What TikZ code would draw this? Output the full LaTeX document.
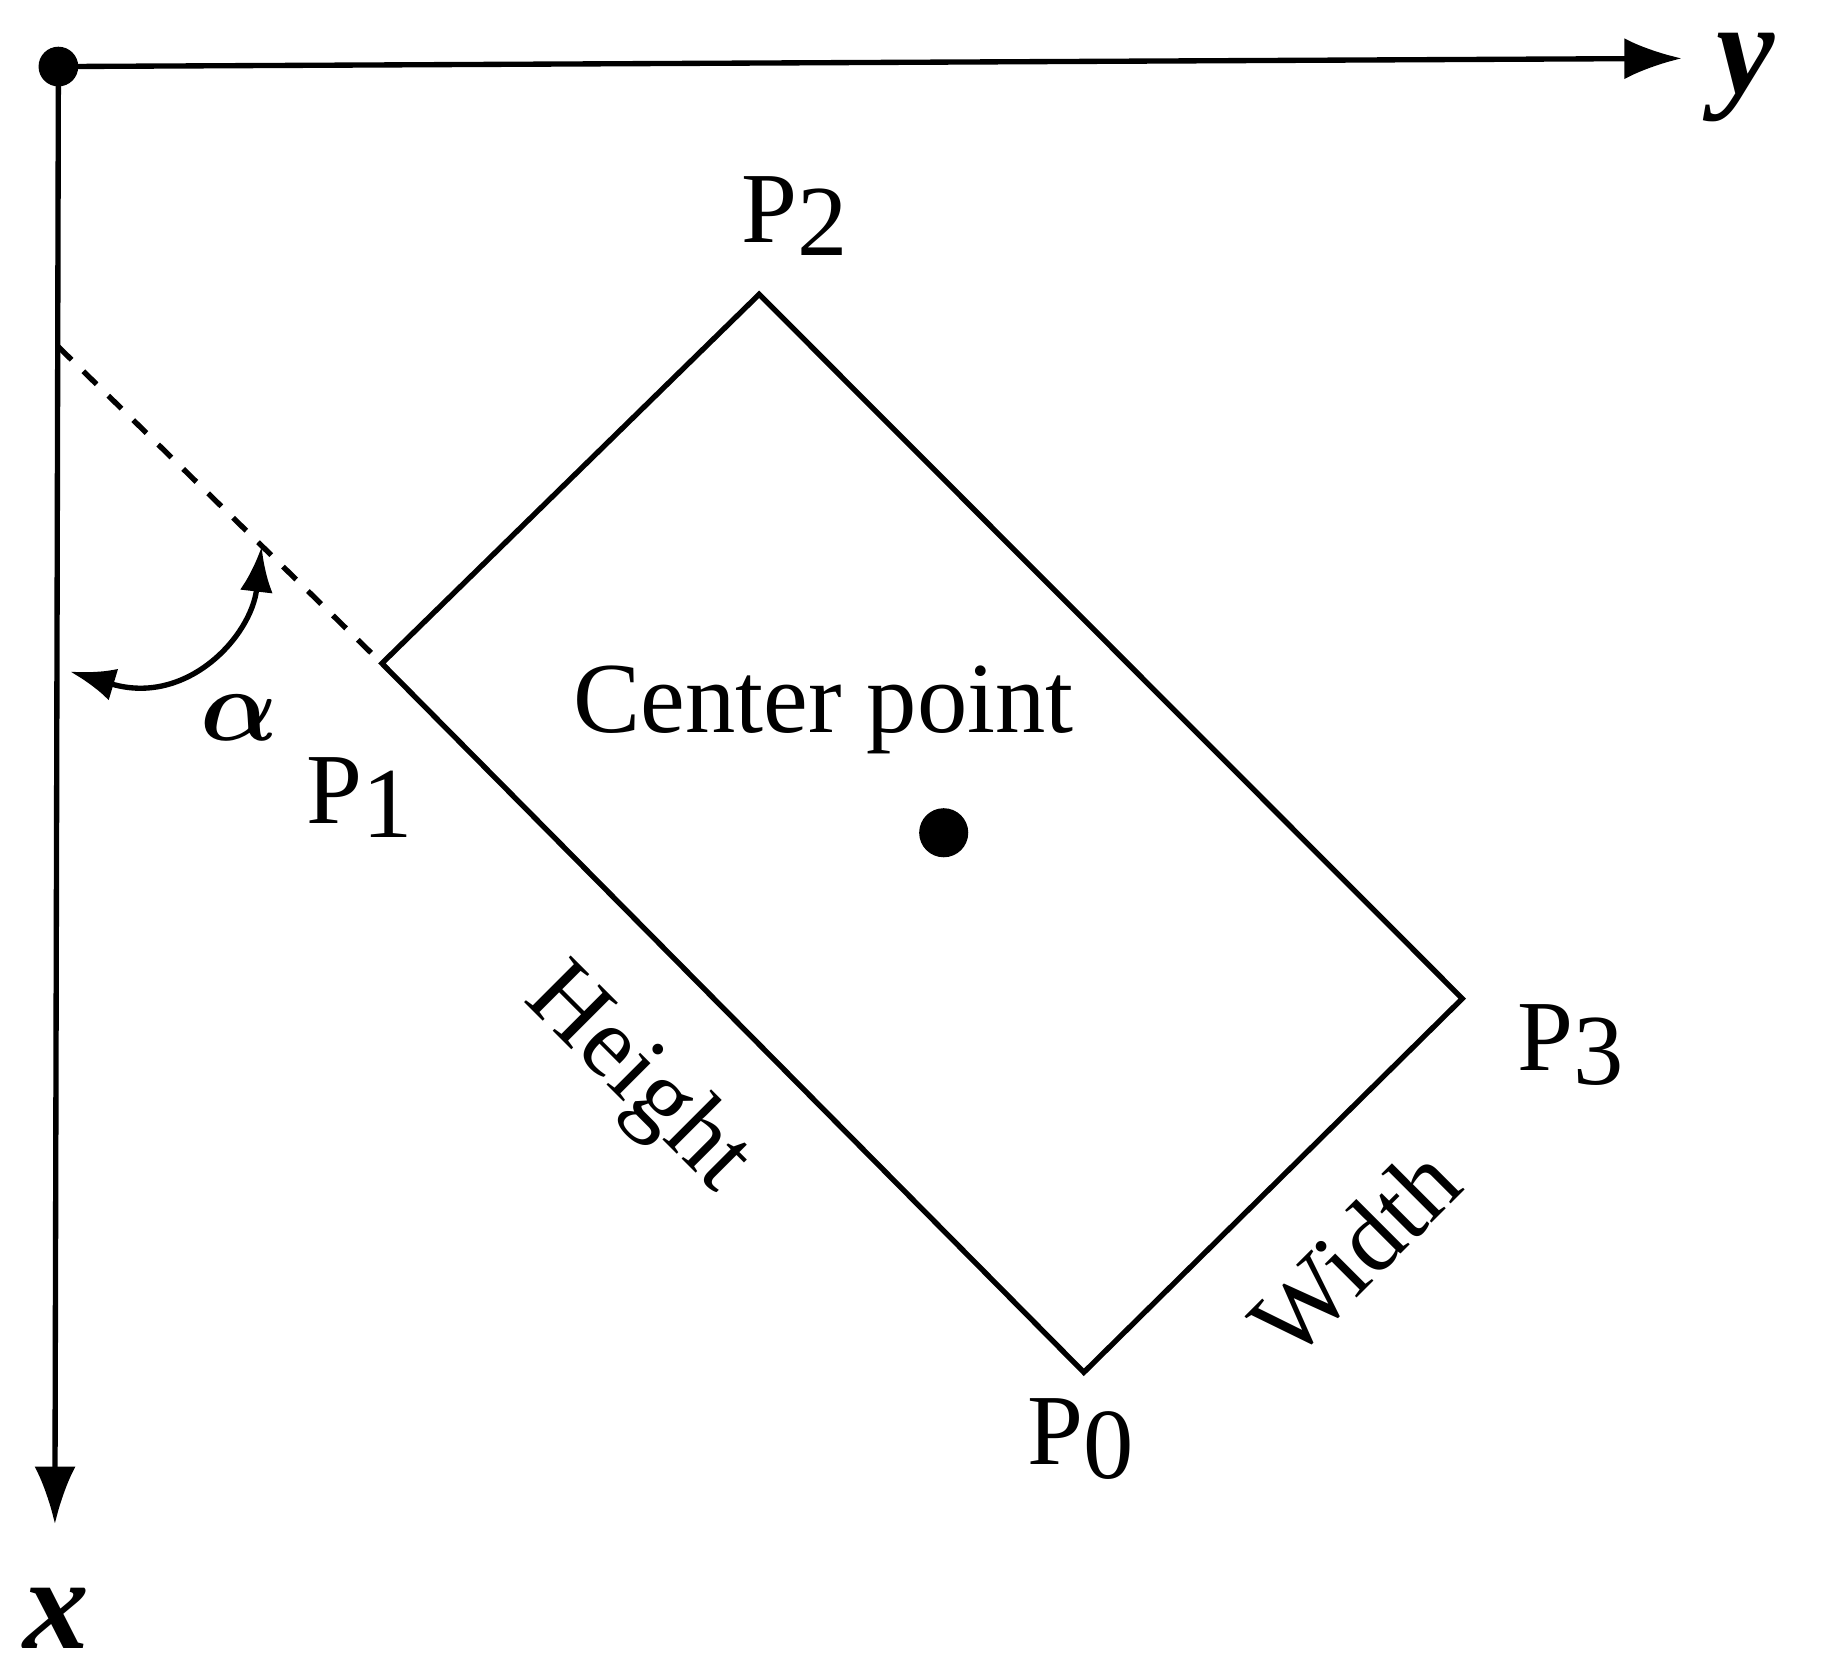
\documentclass[tikz,border=0pt]{standalone}
\usepackage{amsmath,bm}
\usepackage{fontspec}
\setmainfont{Liberation Serif}
\usetikzlibrary{arrows.meta}
\newcommand{\Pk}[1]{P\raisebox{-0.3ex}{#1}}
\begin{document}
\begin{tikzpicture}[x=0.01cm,y=-0.01cm,
  ln/.style={line width=1.3pt},
  lab/.style={font=\fontsize{24.5}{28}\selectfont, inner sep=0pt},
  ax/.style={font=\fontsize{32}{34}\selectfont\bfseries\itshape, inner sep=0pt},
  tip/.style={-{Latex[length=14pt,width=10pt]}}]
\useasboundingbox (0,0) rectangle (1560,1434);
\coordinate (O) at (50,57);
\coordinate (Y) at (1440,50);
\coordinate (X) at (47,1305);
\coordinate (P0) at (928,1175);
\coordinate (P1) at (327,568);
\coordinate (P2) at (650,252);
\coordinate (P3) at (1252,855);
\coordinate (D) at (50,297);
\coordinate (A1) at (60,575);
\coordinate (A2) at (224,468);
\draw[ln,tip] (O) -- (Y);
\draw[ln,tip] (O) -- (X);
\fill (O) circle (17);
\draw[ln] (P0) -- (P1) -- (P2) -- (P3) -- cycle;
\draw[ln,dash pattern=on 4.5pt off 4pt] (D) -- (P1);
\draw[ln,{Latex[length=11pt,width=8pt]}-{Latex[length=11pt,width=8pt]}] (A1) .. controls (160,605) and (215,545) .. (A2);
\node (c) [circle,fill,inner sep=0pt,minimum size=0.42cm] at (808,713) {};
\node[ax] (ly) at (1495,66) {y};
\node[ax] (lx) at (48,1386) {x};
\node[ax] (la) at (205,615) {$\bm{\alpha}$};
\node[lab] (cp) at (705,608) {Center point};
\node[lab] (l2) at (680,185) {\Pk{2}};
\node[lab] (l1) at (308,683) {\Pk{1}};
\node[lab] (l3) at (1345,895) {\Pk{3}};
\node[lab] (l0) at (925,1232) {\Pk{0}};
\node[lab,rotate=-45] (h) at (545,925) {Height};
\node[lab,rotate=45] (w) at (1160,1072) {Width};
\end{tikzpicture}
\end{document}
